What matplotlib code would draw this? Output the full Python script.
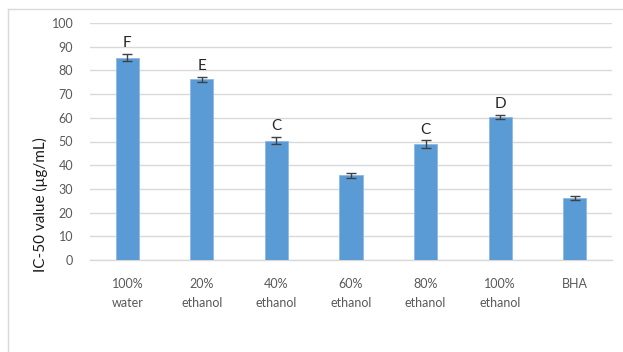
import matplotlib
matplotlib.use("Agg")
import matplotlib.pyplot as plt
from matplotlib.lines import Line2D

categories = ["100%\nwater", "20%\nethanol", "40%\nethanol", "60%\nethanol",
              "80%\nethanol", "100%\nethanol", "BHA"]
ic50 = [85.4, 76.2, 50.3, 35.7, 48.8, 60.2, 26.3]
errors = [1.4, 1.1, 1.5, 1.1, 1.7, 0.9, 0.8]
letters = ["F", "E", "C", "", "C", "D", ""]
yticks = list(range(0, 101, 10))

plt.rcParams["font.family"] = ["Lato", "DejaVu Sans"]

fig = plt.figure(figsize=(6.23, 3.52), dpi=100)
ax = fig.add_axes([90 / 623, 1 - 260 / 352, 522 / 623, 237 / 352])

x = list(range(len(categories)))
ax.bar(x, ic50, width=0.31, color="#5B9BD5", edgecolor="#8DB9E6",
       linewidth=0.6, zorder=3)
ax.errorbar(x, ic50, yerr=errors, fmt="none", ecolor="#404040",
            elinewidth=1.0, capsize=3.5, capthick=1.0, zorder=4)

for xi, v, e, lab in zip(x, ic50, errors, letters):
    if lab:
        ax.text(xi, v + e + 1.6, lab, ha="center", va="bottom",
                fontsize=11, color="#262626")

ax.set_xlim(-0.5, len(categories) - 0.5)
ax.set_ylim(0, 100)
ax.set_yticks(yticks)
ax.set_xticks(x)
ax.set_xticklabels(categories, fontsize=9, color="#595959", linespacing=1.7)
ax.tick_params(axis="y", labelsize=9, labelcolor="#595959", length=0, pad=12)
ax.tick_params(axis="x", length=0, pad=13)
ax.grid(axis="y", color="#D9D9D9", linewidth=1.0, zorder=0)
for side in ["top", "right", "left"]:
    ax.spines[side].set_visible(False)
ax.spines["bottom"].set_color("#D9D9D9")
ax.spines["bottom"].set_linewidth(1.0)

# axis title sits lower than the plot centre, as in the chart's layout
fig.text(40 / 623, 1 - 205 / 352, "IC-50 value (µg/mL)", rotation=90,
         ha="center", va="center", fontsize=11, color="#1A1A1A")

# outer chart frame
fig.add_artist(Line2D([8 / 623, 1], [1 - 9 / 352, 1 - 9 / 352],
                      transform=fig.transFigure, color="#D9D9D9", linewidth=1.0))
fig.add_artist(Line2D([8 / 623, 8 / 623], [0, 1 - 9 / 352],
                      transform=fig.transFigure, color="#D9D9D9", linewidth=1.0))

fig.savefig("out.png", dpi=100, facecolor="white")
